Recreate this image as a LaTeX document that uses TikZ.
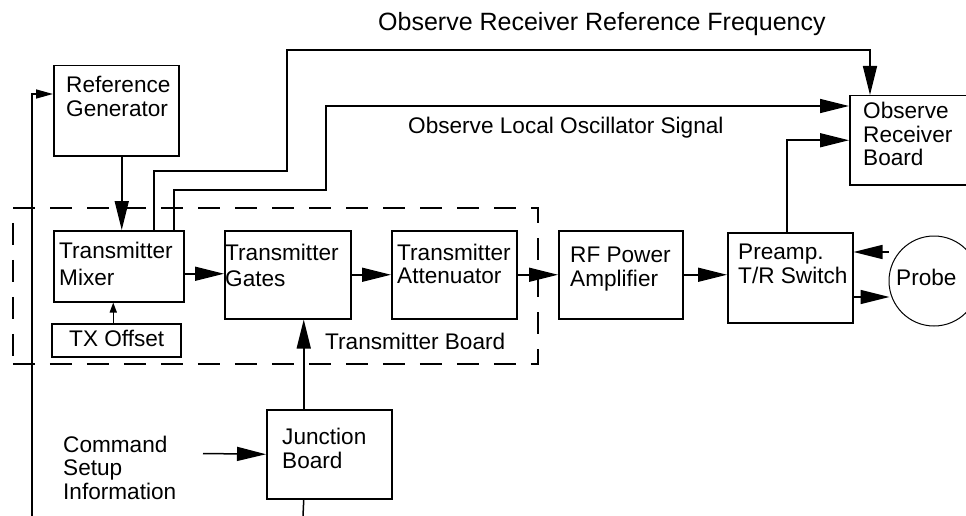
\documentclass[tikz,border=0pt]{standalone}
\usepackage{fontspec}
\setmainfont{Liberation Sans}
\usetikzlibrary{arrows.meta,calc}
\newcommand\mlines[2]{{\def\arraystretch{1}\fontsize{22.6}{#1}\selectfont\begin{tabular}[t]{@{}l@{}}#2\end{tabular}}}
\tikzset{
  blk/.style={draw,line width=1.5pt,rectangle,inner sep=0pt,anchor=north west},
  txt/.style={inner sep=0pt,anchor=base west,font=\fontsize{22.6}{24}\selectfont},
  conn/.style={line width=1.5pt},
  arr/.style={line width=1.5pt,-{Triangle[length=29pt,width=14pt]}},
  marr/.style={line width=1.5pt,-{Triangle[length=17pt,width=9pt]}},
  sarr/.style={line width=1.5pt,-{Triangle[length=10pt,width=7pt]}},
}
\begin{document}
\begin{tikzpicture}[x=1pt,y=-1pt]
\useasboundingbox (0,0) rectangle (966,516);
% transmitter board (dashed)
\node[draw,line width=1.5pt,dash pattern=on 22pt off 15pt,inner sep=0pt,anchor=north west,minimum width=525pt,minimum height=156pt] (tb) at (12,207) {};
% boxes
\node[blk,minimum width=125pt,minimum height=90pt] (rg) at (53,65) {};
\node[blk,minimum width=130pt,minimum height=71pt] (mx) at (53,230) {};
\node[blk,minimum width=129pt,minimum height=33pt] (txo) at (51,323) {};
\node[blk,minimum width=126pt,minimum height=88pt] (gt) at (224,230) {};
\node[blk,minimum width=125pt,minimum height=88pt] (at) at (391,230) {};
\node[blk,minimum width=124pt,minimum height=88pt] (rf) at (558,230) {};
\node[blk,minimum width=125pt,minimum height=90pt] (pa) at (727,232) {};
\node[blk,minimum width=126pt,minimum height=89pt] (ob) at (849,95) {};
\node[blk,minimum width=125pt,minimum height=89pt] (jb) at (266,409) {};
\node[draw,circle,line width=1pt,minimum size=90pt,inner sep=0pt] (pr) at (934,281) {};
% texts
\node[txt] (rgt) at (66,93) {\mlines{24}{Reference\\Generator}};
\node[txt] (mxt) at (59,258) {\mlines{27}{Transmitter\\Mixer}};
\node[txt] (txot) at (69,346) {TX Offset};
\node[txt] (gtt) at (225,260) {\mlines{26}{Transmitter\\Gates}};
\node[txt] (att) at (397,260) {\mlines{23}{Transmitter\\Attenuator}};
\node[txt] (rft) at (570,262) {\mlines{24}{RF Power\\Amplifier}};
\node[txt] (pat) at (738,259) {\mlines{24}{Preamp.\\T/R Switch}};
\node[txt] (obt) at (863,119) {\mlines{23.5}{Observe\\Receiver\\Board}};
\node[txt] (jbt) at (282,444) {\mlines{24}{Junction\\Board}};
\node[txt] (prt) at (896,285) {Probe};
\node[txt] (cmdt) at (63,452) {\mlines{23.5}{Command\\Setup\\Information}};
\node[txt] (tbt) at (325,349) {Transmitter Board};
\node[txt] (lot) at (408,133) {Observe Local Oscillator Signal};
\node[txt,font=\fontsize{25}{28}\selectfont] (ttl) at (378,31) {Observe Receiver Reference Frequency};
% coordinates
\coordinate (l0) at (32,516);
\coordinate (l1) at (32,94);
\coordinate (t1) at (287,171);
\coordinate (t2) at (870,50);
\coordinate (t3) at (326,190);
\coordinate (jbot) at (303,516);
\coordinate (cmdo) at (203,453.5);
% connectors
\draw[marr] (l0) -- (l1) -- (rg.west |- l1);
\draw[arr] ([xshift=5.5pt]rg.south) -- ([xshift=5.5pt]rg.south |- mx.north);
\draw[sarr] ([xshift=-3pt]txo.north) -- ([xshift=-3pt]txo.north |- mx.south);
\draw[arr] ([yshift=-7.5pt]mx.east) -- ([yshift=-7.5pt]mx.east -| gt.west);
\draw[arr] (gt.east) -- (gt.east -| at.west);
\draw[arr] (at.east) -- (at.east -| rf.west);
\draw[arr] (rf.east) -- (rf.east -| pa.west);
\draw[arr] ([yshift=29pt]pr.west) -- ([yshift=29pt]pr.west -| pa.east);
\draw[arr] ([yshift=-16pt]pr.west -| pa.east) -- ([yshift=-16pt,xshift=1pt]pr.west);
\draw[arr] ([xshift=-3.5pt]pa.north) |- (ob.west);
\draw[arr] ([xshift=35pt]mx.north) |- (t1) |- (t2) -- (t2 |- ob.north);
\draw[arr] ([xshift=55pt]mx.north) |- (t3) |- ([yshift=-11pt]ob.north west);
\draw[arr] ([xshift=-25.5pt]jb.north) -- ([xshift=-25.5pt]jb.north |- gt.south);
\draw[conn] ([xshift=-25.5pt]jb.south) -- (jbot);
\draw[arr] (cmdo) -- (jb.west);
\end{tikzpicture}
\end{document}
